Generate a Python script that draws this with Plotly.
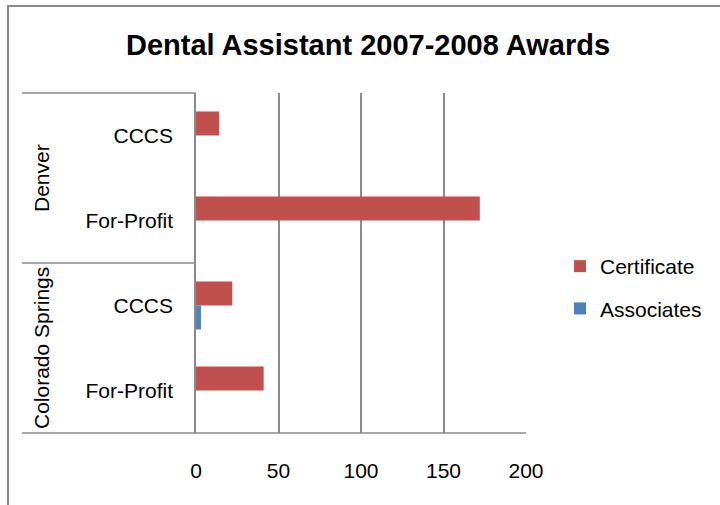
import plotly.graph_objects as go

# Award counts by region and institution type
regions = ["Denver", "Denver", "Colorado Springs", "Colorado Springs"]
schools = ["CCCS", "For-Profit", "CCCS", "For-Profit"]
certificate = [14, 172, 22, 41]
associates = [0, 0, 3, 0]
x_ticks = [0, 50, 100, 150, 200]

RED = "#C0504D"
BLUE = "#4F81BD"
GRID = "#8A8A8A"
FONT = "Liberation Sans, Arial, sans-serif"
FS = 21

# Figure geometry (pixels)
W, H = 720, 505
L, R, T, B = 196, 194, 93, 72
PW, PH = W - L - R, H - T - B


def px(x):
    return (x - L) / PW


def py(y):
    return (H - B - y) / PH


cat_ids = [f"{r} | {s}" for r, s in zip(regions, schools)]

fig = go.Figure()
fig.add_trace(go.Bar(y=cat_ids, x=certificate, name="Certificate", orientation="h",
                     legendgroup="cert",
                     marker=dict(color=RED, line=dict(width=0))))
fig.add_trace(go.Bar(y=cat_ids, x=associates, name="Associates", orientation="h",
                     legendgroup="assoc",
                     marker=dict(color=BLUE, line=dict(width=0))))

shapes = []
# Chart-area border (top and left edges visible)
shapes.append(dict(type="rect", xref="paper", yref="paper",
                   x0=px(8), x1=px(W + 20), y0=py(H + 20), y1=py(6),
                   line=dict(color=GRID, width=2), layer="below"))
# Category label column lines
for yy in [1.0, 0.5]:
    shapes.append(dict(type="line", xref="paper", yref="paper",
                       x0=px(22), x1=0, y0=yy, y1=yy,
                       line=dict(color=GRID, width=1.5)))
shapes.append(dict(type="line", xref="paper", yref="paper",
                   x0=px(22), x1=1, y0=0, y1=0,
                   line=dict(color=GRID, width=1.5)))

# Region group labels, centred on their pair of categories
annotations = []
seen = []
for i, r in enumerate(regions):
    if r in seen:
        continue
    seen.append(r)
    idx = [j for j, rr in enumerate(regions) if rr == r]
    annotations.append(dict(text=r, xref="paper", yref="y",
                            x=px(41), y=sum(idx) / len(idx),
                            textangle=-90, showarrow=False,
                            font=dict(family=FONT, size=FS, color="black"),
                            xanchor="center", yanchor="middle"))

fig.update_layout(
    width=W, height=H,
    margin=dict(l=L, r=R, t=T, b=B),
    paper_bgcolor="white", plot_bgcolor="white",
    barmode="group", bargap=0.435, bargroupgap=0,
    font=dict(family=FONT, size=FS, color="black"),
    title=dict(text="<b>Dental Assistant 2007-2008 Awards</b>",
               x=368 / W, xanchor="center", xref="container",
               y=1 - 45 / H, yanchor="middle", yref="container",
               font=dict(family=FONT, size=29, color="black")),
    xaxis=dict(range=[0, 200], tickvals=x_ticks, showgrid=True,
               gridcolor=GRID, gridwidth=1.5, zeroline=False,
               showline=False, ticks="", ticklabelstandoff=23,
               tickfont=dict(family=FONT, size=FS, color="black"),
               fixedrange=True),
    yaxis=dict(type="category", categoryorder="array", categoryarray=cat_ids,
               autorange="reversed", tickmode="array", tickvals=cat_ids,
               ticktext=schools, showgrid=False, zeroline=False,
               showline=True, linecolor=GRID, linewidth=1.5, ticks="",
               ticklabelstandoff=17,
               tickfont=dict(family=FONT, size=FS, color="black")),
    legend=dict(x=px(560), xanchor="left", y=py(287.5), yanchor="middle",
                traceorder="grouped", font=dict(family=FONT, size=FS, color="black"),
                bgcolor="rgba(0,0,0,0)", itemwidth=30, tracegroupgap=12),
    shapes=shapes,
    annotations=annotations,
)

fig.write_html("out.html")
